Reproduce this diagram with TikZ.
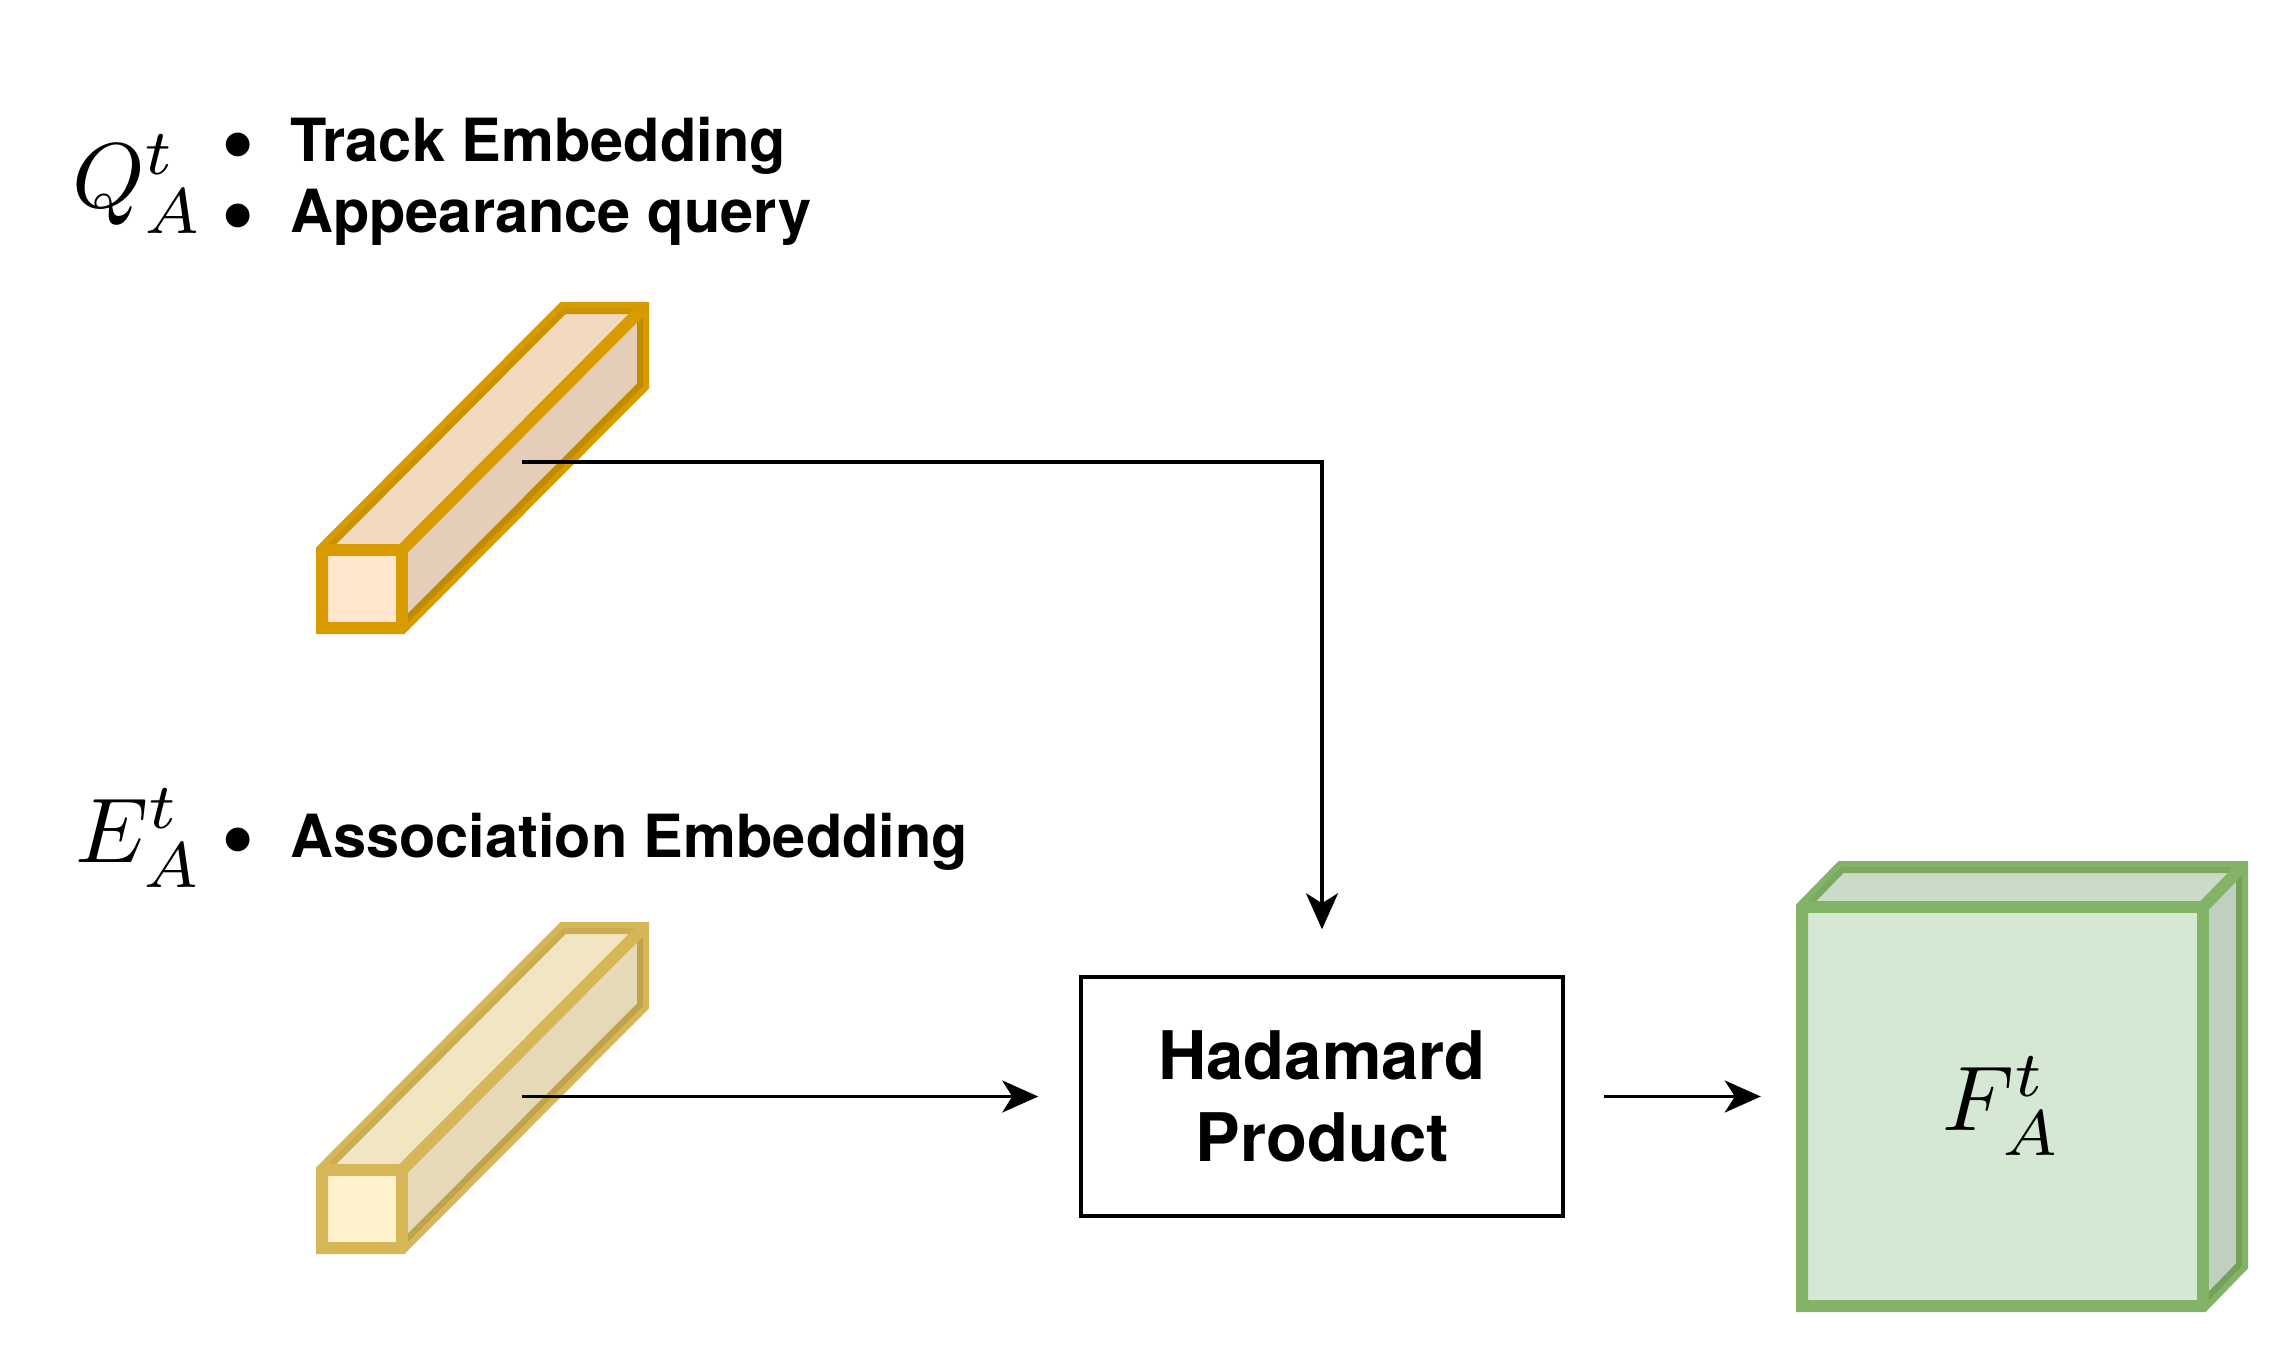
\documentclass[tikz,border=0pt]{standalone}
\usepackage{graphicx}
\usepackage{fontspec}
\newfontfamily\hfont{TeX Gyre Heros}
\usetikzlibrary{arrows.meta}
\definecolor{orS}{HTML}{D79B00}
\definecolor{orF}{HTML}{FFE6CC}
\definecolor{yeS}{HTML}{D6B656}
\definecolor{yeF}{HTML}{FFF2CC}
\definecolor{grS}{HTML}{82B366}
\definecolor{grF}{HTML}{D5E8D4}
\newcommand{\bigmath}[1]{\scalebox{9.2}{$#1$}}
\newcommand{\mybul}{\makebox[69pt][l]{\raisebox{-11.5pt}{\scalebox{1.6}{•}}}}
% #1 x, #2 y top of front face, #3 w, #4 h, #5 dx, #6 dy, #7 stroke, #8 fill
\newcommand{\mycuboid}[8]{%
  \fill[#8] (#1,{#2+#4}) -- (#1,#2) -- ({#1+#5},{#2+#6}) -- ({#1+#3+#5},{#2+#6})
     -- ({#1+#3+#5},{#2+#4+#6}) -- ({#1+#3},{#2+#4}) -- cycle;
  \draw[cubeline, draw=#7] (#1,{#2+#4}) -- (#1,#2) -- ({#1+#5},{#2+#6}) -- ({#1+#3+#5},{#2+#6})
     -- ({#1+#3+#5},{#2+#4+#6}) -- ({#1+#3},{#2+#4}) -- cycle;
  \fill[black, opacity=.05] (#1,#2) -- ({#1+#5},{#2+#6}) -- ({#1+#3+#5},{#2+#6}) -- ({#1+#3},#2) -- cycle;
  \fill[black, opacity=.10] ({#1+#3},#2) -- ({#1+#3+#5},{#2+#6}) -- ({#1+#3+#5},{#2+#4+#6}) -- ({#1+#3},{#2+#4}) -- cycle;
  \draw[cubeline, draw=#7] (#1,#2) -- ({#1+#3},#2) -- ({#1+#3},{#2+#4});
  \draw[cubeline, draw=#7] ({#1+#3},#2) -- ({#1+#3+#5},{#2+#6});
}
\tikzset{
  cubeline/.style={line width=12pt, line join=miter},
  conn/.style={draw=black, line width=3.5pt, -{Stealth[length=36pt,width=32pt,inset=10pt]}},
  lbl/.style={anchor=base west, inner sep=0pt, font=\hfont\bfseries\fontsize{59.5}{70}\selectfont},
  mathlbl/.style={anchor=base west, inner sep=0pt},
}
\begin{document}
\begin{tikzpicture}[x=1pt,y=-1pt]
\useasboundingbox (0,0) rectangle (2288,1356);
\fill[white] (0,0) rectangle (2288,1356);

% cuboids
\mycuboid{322}{550}{80}{78}{241}{-242}{orS}{orF}
\mycuboid{322}{1170}{80}{78}{241}{-242}{yeS}{yeF}
\mycuboid{1802}{907}{401}{399}{39}{-40}{grS}{grF}

% labels
\node[mathlbl] (qlab) at (72,208) {\bigmath{Q^t_A}};
\node[lbl] (t1) at (221,162) {\mybul Track Embedding};
\node[lbl] (t2) at (221,233) {\mybul Appearance query};
\node[mathlbl] (elab) at (75,862) {\bigmath{E^t_A}};
\node[lbl] (t3) at (221,857) {\mybul Association Embedding};

% process box
\node[draw, line width=3.5pt, minimum width=482pt, minimum height=239pt, inner sep=0pt,
      align=center, font=\hfont\bfseries\fontsize{67}{82}\selectfont] (had) at (1322,1096.5) {Hadamard\\Product};

% output
\node[inner sep=0pt, minimum width=401pt, minimum height=399pt] (fout) at (2002.5,1106.5) {\bigmath{F^t_A}};

% connectors
\coordinate (qs) at (522,462);
\coordinate (es) at (522,1096.5);
\draw[conn, shorten >=46pt] (qs) -| (had.north);
\draw[conn, shorten >=41pt] (es) -- (had.west);
\draw[conn, shorten <=39pt, shorten >=41pt] (had.east) -- (had.east -| fout.west);
\end{tikzpicture}
\end{document}
